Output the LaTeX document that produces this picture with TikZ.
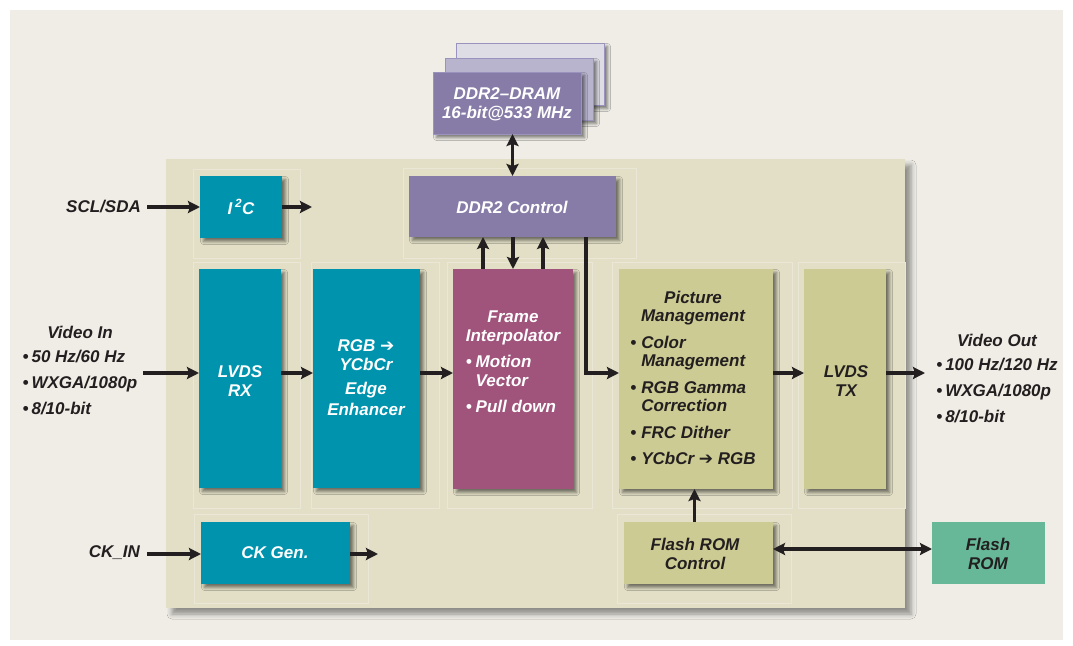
\documentclass[tikz,border=0pt]{standalone}
\usepackage{fontspec}
\setmainfont{Liberation Sans}
\newfontfamily\symf{DejaVu Sans}
\usetikzlibrary{arrows.meta,shadows.blur,calc}
\definecolor{bgc}{HTML}{EFEDE6}
\definecolor{chipc}{HTML}{E3DFC6}
\definecolor{cellc}{HTML}{EAE7D6}
\definecolor{tealc}{HTML}{0093AE}
\definecolor{magc}{HTML}{A0537B}
\definecolor{khakic}{HTML}{CCCB93}
\definecolor{purpc}{HTML}{877CA8}
\definecolor{greenc}{HTML}{66B899}
\definecolor{sheetA}{HTML}{B9B4CD}
\definecolor{sheetB}{HTML}{DEDDE6}
\definecolor{sheetE}{HTML}{9A93BE}
\definecolor{inkc}{HTML}{231F20}
\begin{document}
\begin{tikzpicture}[x=1pt,y=-1pt,
  font=\fontsize{17}{19}\selectfont\bfseries\itshape,
  shad/.style={blur shadow={shadow xshift=3.5pt,shadow yshift=-3.5pt,shadow blur radius=3pt,shadow opacity=50}},
  blk/.style={anchor=north west, inner sep=0pt, outer sep=0pt},
  txt/.style={inner sep=0pt, align=center},
  wt/.style={txt, text=white},
  dk/.style={txt, text=inkc},
  cell/.style={draw=cellc, line width=0.8pt},
  tip/.tip={Stealth[length=12pt,width=12pt,inset=2pt]},
  arr/.style={line width=3.3pt, draw=inkc, line join=miter, -tip},
  darr/.style={line width=3.3pt, draw=inkc, tip-tip}
]
\useasboundingbox (0,0) rectangle (1073,645);
\fill[bgc] (10,10) rectangle (1063,640);

% chip
\node[blk, fill=chipc, minimum width=739pt, minimum height=449pt,
  blur shadow={shadow xshift=6pt,shadow yshift=-6pt,shadow blur radius=5pt,shadow opacity=40}] (chip) at (166,159) {};

% cells
\draw[cell] (193,169) rectangle (300,258);
\draw[cell] (403,168) rectangle (636,258);
\draw[cell] (193,262) rectangle (300,508);
\draw[cell] (311,262) rectangle (439,508);
\draw[cell] (447,262) rectangle (592,508);
\draw[cell] (612,262) rectangle (792,508);
\draw[cell] (798,262) rectangle (905,508);
\draw[cell] (194,514) rectangle (368,603);
\draw[cell] (617,514) rectangle (791,603);

% DRAM sheets
\node[blk, shad, fill=sheetB, draw=sheetE, line width=1pt, minimum width=148pt, minimum height=62pt] (dramC) at (456,43) {};
\node[blk, shad, fill=sheetA, draw=sheetE, line width=1pt, minimum width=148pt, minimum height=62pt] (dramB) at (445,58) {};
\node[blk, shad, fill=purpc, draw=sheetE, line width=1pt, minimum width=148pt, minimum height=62pt] (dram) at (433,72) {};
\node[wt] (dramT) at (507,104) {DDR2--DRAM\\16-bit@533 MHz};

% blocks
\node[blk, shad, fill=tealc, minimum width=82pt, minimum height=62pt] (i2c) at (200,176) {};
\node[blk, shad, fill=purpc, minimum width=207pt, minimum height=61pt] (ddrctl) at (409,176) {};
\node[blk, shad, fill=tealc, minimum width=82pt, minimum height=219pt] (lvdsrx) at (199,269) {};
\node[blk, shad, fill=tealc, minimum width=107pt, minimum height=219pt] (rgb) at (313,269) {};
\node[blk, shad, fill=magc, minimum width=120pt, minimum height=220pt] (frame) at (453,269) {};
\node[blk, shad, fill=khakic, minimum width=154pt, minimum height=220pt] (pic) at (619,269) {};
\node[blk, shad, fill=khakic, minimum width=82pt, minimum height=220pt] (lvdstx) at (804,269) {};
\node[blk, shad, fill=tealc, minimum width=149pt, minimum height=62pt] (ckgen) at (201,522) {};
\node[blk, shad, fill=khakic, minimum width=149pt, minimum height=62pt] (fromc) at (624,522) {};
\node[blk, fill=greenc, minimum width=113pt, minimum height=62pt] (flash) at (932,522) {};

% block texts
\node[wt] (i2cT) at (241,207) {I\,\textsuperscript{2}C};
\node[wt] (ddrctlT) at (512,207) {DDR2 Control};
\node[wt] (lvdsrxT) at (240,381) {LVDS\\RX};
\node[wt] (rgbT) at (366,380) {\begin{tabular}{@{}c@{}}RGB {\symf ➔}\\ YCbCr\\[5pt] Edge\\[2pt] Enhancer\end{tabular}};
\node[wt] (frameT) at (513,364) {\begin{tabular}{@{}l@{\hspace{4pt}}l@{}}\multicolumn{2}{@{}c@{}}{Frame}\\ \multicolumn{2}{@{}c@{}}{Interpolator}\\[7pt] \textbullet & Motion\\ & Vector\\[7pt] \textbullet & Pull down\end{tabular}};
\node[dk, font=\fontsize{17}{18}\selectfont\bfseries\itshape] (picT) at (693,380) {\begin{tabular}{@{}l@{\hspace{5pt}}l@{}}\multicolumn{2}{@{}c@{}}{Picture}\\ \multicolumn{2}{@{}c@{}}{Management}\\[9pt] \textbullet & Color\\ & Management\\[9pt] \textbullet & RGB Gamma\\ & Correction\\[9pt] \textbullet & FRC Dither\\[8pt] \textbullet & YCbCr {\symf ➔} RGB\end{tabular}};
\node[dk] (lvdstxT) at (846,381) {LVDS\\TX};
\node[wt] (ckgenT) at (275,553) {CK Gen.};
\node[dk] (fromcT) at (695,554) {Flash ROM\\Control};
\node[dk] (flashT) at (988,554) {Flash\\ROM};

% outside labels
\node[dk, anchor=east] (sclT) at (141,207) {SCL/SDA};
\node[dk, anchor=east] (ckinT) at (140,553) {CK\_IN};
\node[dk] (vinT) at (80,373) {\begin{tabular}{@{}l@{}}\multicolumn{1}{@{}c@{}}{Video In}\\[5pt] \textbullet\hspace{3pt}50 Hz/60 Hz\\[7pt] \textbullet\hspace{3pt}WXGA/1080p\\[7pt] \textbullet\hspace{3pt}8/10-bit\end{tabular}};
\node[dk] (voutT) at (997,381) {\begin{tabular}{@{}l@{}}\multicolumn{1}{@{}c@{}}{Video Out}\\[5pt] \textbullet\hspace{3pt}100 Hz/120 Hz\\[7pt] \textbullet\hspace{3pt}WXGA/1080p\\[7pt] \textbullet\hspace{3pt}8/10-bit\end{tabular}};

% connectors
\coordinate (sclS) at (147,207);
\coordinate (i2cO) at (312,207);
\coordinate (vinS) at (143,373);
\coordinate (tap) at (586,237);
\coordinate (voutE) at (925,373);
\coordinate (ckS) at (147,554);
\coordinate (ckO) at (378,554);

\draw[arr] (sclS) -- (i2c.west);
\draw[arr] (i2c.east) -- (i2cO);
\draw[arr] (vinS) -- (vinS -| lvdsrx.west);
\draw[arr] (vinS -| lvdsrx.east) -- (vinS -| rgb.west);
\draw[arr] (vinS -| rgb.east) -- (vinS -| frame.west);
\draw[arr] (ddrctl.south -| tap) -- (tap |- vinS) -- (vinS -| pic.west);
\draw[arr] (vinS -| pic.east) -- (vinS -| lvdstx.west);
\draw[arr] (vinS -| lvdstx.east) -- (voutE);
\draw[arr] ([xshift=-30pt]frame.north) -- ([xshift=-30pt]frame.north |- ddrctl.south);
\draw[arr] (frame.north |- ddrctl.south) -- (frame.north);
\draw[arr] ([xshift=30pt]frame.north) -- ([xshift=30pt]frame.north |- ddrctl.south);
\draw[darr] (dram.south -| ddrctl.north) -- (ddrctl.north);
\draw[arr] ([xshift=-4pt]fromc.north) -- ([xshift=-4pt]fromc.north |- pic.south);
\draw[darr] ([yshift=4pt]fromc.east) -- ([yshift=4pt]fromc.east -| flash.west);
\draw[arr] (ckS) -- (ckS -| ckgen.west);
\draw[arr] (ckS -| ckgen.east) -- (ckO);
\end{tikzpicture}
\end{document}
